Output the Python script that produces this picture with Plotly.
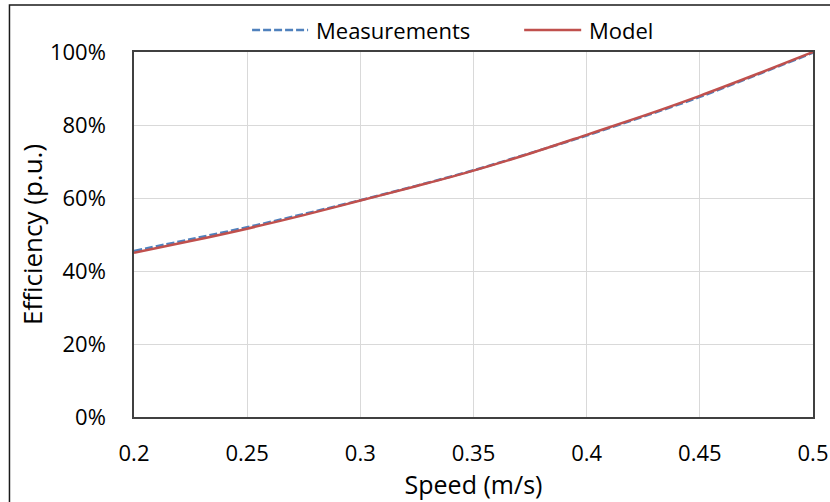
import plotly.graph_objects as go

speed = [0.2, 0.225, 0.25, 0.275, 0.3, 0.325, 0.35, 0.375, 0.4, 0.425, 0.45, 0.475, 0.5]
measurements = [0.455, 0.487, 0.520, 0.556, 0.594, 0.634, 0.676, 0.723, 0.771, 0.823, 0.877, 0.937, 0.998]
model = [0.450, 0.482, 0.516, 0.553, 0.593, 0.633, 0.675, 0.722, 0.773, 0.825, 0.880, 0.939, 1.000]

x_ticks = [0.2, 0.25, 0.3, 0.35, 0.4, 0.45, 0.5]
x_labels = ["0.2", "0.25", "0.3", "0.35", "0.4", "0.45", "0.5"]
y_ticks = [0, 0.2, 0.4, 0.6, 0.8, 1.0]
y_labels = ["0%", "20%", "40%", "60%", "80%", "100%"]

series_names = ["Measurements", "Model"]
series_colors = ["#4f81bd", "#c0504d"]
series_dash = ["8px,3px", "solid"]

fig = go.Figure()
fig.add_trace(go.Scatter(x=speed, y=measurements, mode="lines", name=series_names[0],
                         showlegend=False,
                         line=dict(color=series_colors[0], width=2.5, dash=series_dash[0], shape="spline")))
fig.add_trace(go.Scatter(x=speed, y=model, mode="lines", name=series_names[1],
                         showlegend=False,
                         line=dict(color=series_colors[1], width=2.5, shape="spline")))

font = "Open Sans, Liberation Sans, sans-serif"
fig.update_layout(
    width=830, height=502,
    margin=dict(l=134, r=17, t=52, b=85),
    paper_bgcolor="white", plot_bgcolor="white",
    font=dict(family=font, color="#000000", size=22),
    showlegend=False,
    xaxis=dict(range=[0.2, 0.5], tickvals=x_ticks, ticktext=x_labels,
               showgrid=True, gridcolor="#d9d9d9", gridwidth=1,
               showline=True, linecolor="#404040", linewidth=1.5, mirror=True,
               ticks="outside", ticklen=16, tickcolor="rgba(0,0,0,0)",
               zeroline=False, tickfont=dict(size=22), automargin=False,
               title=dict(text="Speed (m/s)", font=dict(size=25), standoff=9)),
    yaxis=dict(range=[0, 1.0], tickvals=y_ticks, ticktext=y_labels,
               showgrid=True, gridcolor="#d9d9d9", gridwidth=1,
               showline=True, linecolor="#404040", linewidth=1.5, mirror=True,
               ticks="outside", ticklen=22, tickcolor="rgba(0,0,0,0)",
               zeroline=False, tickfont=dict(size=22), automargin=False,
               title=dict(text="Efficiency (p.u.)", font=dict(size=26), standoff=0)),
)

# Outer chart frame
fig.add_shape(type="rect", xref="paper", yref="paper",
              x0=-0.1834, x1=1.1, y0=-0.4, y1=1.1288,
              line=dict(color="#1a1a1a", width=1.5), fillcolor="rgba(0,0,0,0)", layer="below")

# Legend (drawn manually to match sample length)
legend_y = 1.0603
legend_items = [(0.1739, 0.2564, 0.2652), (0.5746, 0.6586, 0.6675)]
for (x0, x1, xt), name, color, dash in zip(legend_items, series_names, series_colors, series_dash):
    fig.add_shape(type="line", xref="paper", yref="paper", x0=x0, x1=x1, y0=legend_y, y1=legend_y,
                  line=dict(color=color, width=2.5, dash=dash))
    fig.add_annotation(xref="paper", yref="paper", x=xt, y=legend_y, text=name, showarrow=False,
                       xanchor="left", yanchor="middle", font=dict(size=22, family=font, color="#000000"))

fig.write_html("out.html")
